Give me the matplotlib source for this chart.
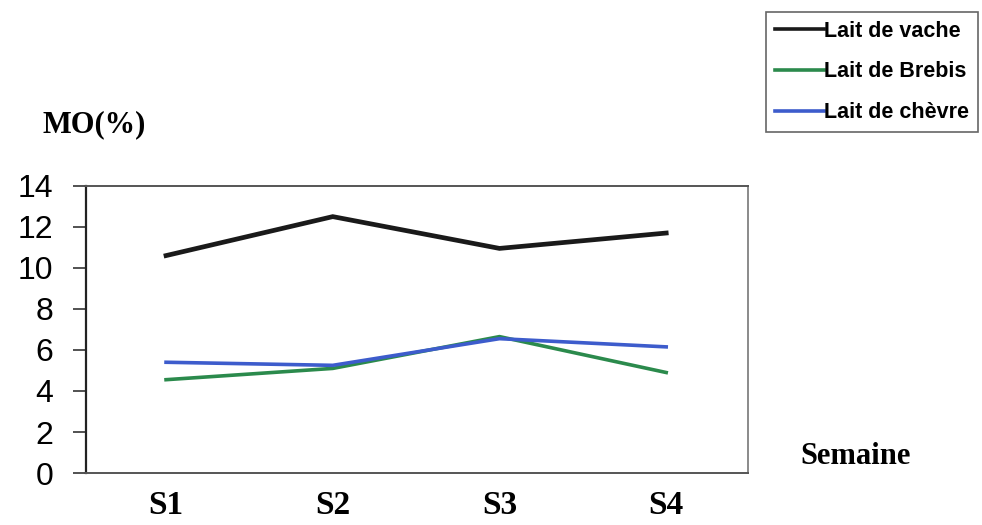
import matplotlib
matplotlib.use('Agg')
import matplotlib.pyplot as plt

semaines = ['S1', 'S2', 'S3', 'S4']
vache = [10.6, 12.5, 10.95, 11.7]
brebis = [4.55, 5.1, 6.65, 4.9]
chevre = [5.4, 5.25, 6.55, 6.15]

fig = plt.figure(figsize=(9.82, 5.25), dpi=100)
ax = fig.add_axes([0.0876, 0.099, 0.674, 0.547])

x = range(len(semaines))
ax.plot(x, vache, color='#1a1a1a', lw=3.4, label='Lait de vache', solid_joinstyle='miter')
ax.plot(x, brebis, color='#2b8a4c', lw=2.6, label='Lait de Brebis')
ax.plot(x, chevre, color='#3d5ccc', lw=2.6, label='Lait de chèvre')

ax.set_xlim(-0.48, 3.49)
ax.set_ylim(0, 14)
ax.set_yticks(range(0, 15, 2))
ax.set_xticks(list(x))
ax.set_xticklabels(semaines, family='Liberation Serif', weight='bold', fontsize=24)
ax.tick_params(axis='x', length=0, pad=12)
ax.tick_params(axis='y', length=9.5, width=1.2, color='#333333', pad=14,
               labelsize=23)
for lab in ax.get_yticklabels():
    lab.set_family('Liberation Sans')

ax.spines['left'].set_color('#222222')
ax.spines['left'].set_linewidth(1.6)
for side in ['top', 'bottom']:
    ax.spines[side].set_color('#555555')
    ax.spines[side].set_linewidth(1.4)
ax.spines['right'].set_color('#8a8a8a')
ax.spines['right'].set_linewidth(1.4)

fig.text(0.0962, 0.762, 'MO(%)', family='Liberation Serif', weight='bold',
         fontsize=22, ha='center', va='center')
fig.text(0.871, 0.131, 'Semaine', family='Liberation Serif', weight='bold',
         fontsize=22, ha='center', va='center')

leg = fig.legend(loc='upper right', bbox_to_anchor=(978 / 982, 1 - 12 / 525),
                 prop={'family': 'Liberation Sans', 'weight': 'bold', 'size': 15.5},
                 handlelength=2.3, handletextpad=0.0, labelspacing=0.92,
                 borderpad=0.4, borderaxespad=0, fancybox=False,
                 edgecolor='#666666', framealpha=1)
leg.get_frame().set_linewidth(1.2)
for line in leg.get_lines():
    line.set_linewidth(2.6)

fig.savefig('out.png', dpi=100)
